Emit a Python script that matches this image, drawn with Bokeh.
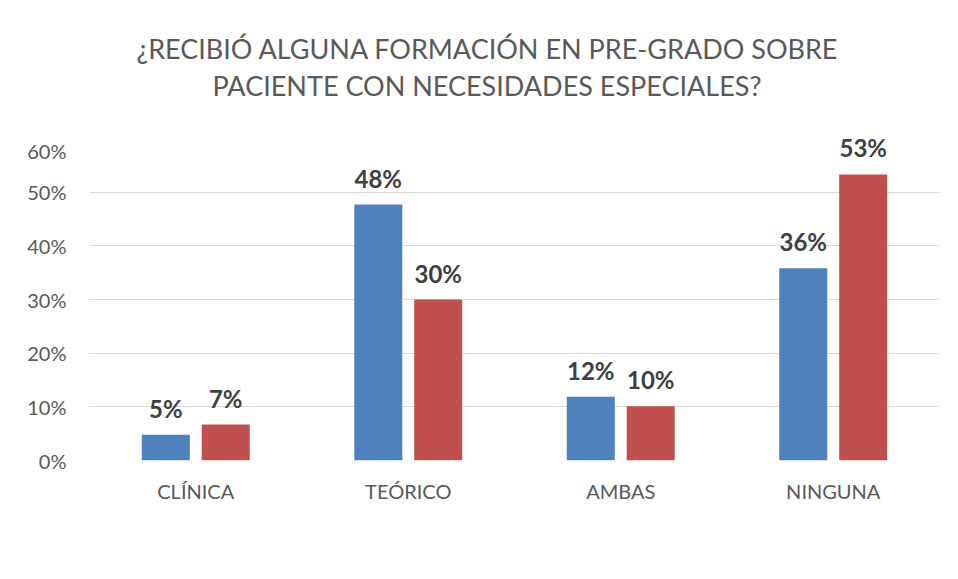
from bokeh.plotting import figure
from bokeh.layouts import column
from bokeh.models import FactorRange, Range1d, Legend, LegendItem, Div, NumeralTickFormatter, ColumnDataSource
from bokeh.transform import dodge
from bokeh.core.properties import value
from bokeh.embed import file_html
from bokeh.resources import INLINE

categories = ["CLÍNICA", "TEÓRICO", "AMBAS", "NINGUNA"]
valparaiso = [4.8, 47.7, 11.9, 35.8]
vina = [6.7, 30.0, 10.1, 53.3]
valparaiso_labels = ["5%", "48%", "12%", "36%"]
vina_labels = ["7%", "30%", "10%", "53%"]
series_names = ["VALPARAÍSO", "VIÑA DEL MAR"]
title_lines = ["¿RECIBIÓ ALGUNA FORMACIÓN EN PRE-GRADO SOBRE", "PACIENTE CON NECESIDADES ESPECIALES?"]

FONT = "Lato"
BLUE = "#4F81BD"
RED = "#C0504D"
GREY = "#595959"

src = ColumnDataSource(dict(cat=categories, v1=[v / 100 for v in valparaiso], v2=[v / 100 for v in vina],
                            l1=valparaiso_labels, l2=vina_labels))

title_div = Div(text=("<div style='width:942px;box-sizing:border-box;padding-left:32px;padding-top:30px;"
                      "text-align:center;font-family:Lato;font-size:27px;line-height:37px;color:%s'>%s</div>"
                      % (GREY, "<br>".join(title_lines))),
                width=942, height=138, margin=0)

p = figure(x_range=FactorRange(*categories), y_range=Range1d(0, 0.6),
           width=942, height=432, frame_width=850, frame_height=322,
           output_backend="svg", toolbar_location=None, margin=0,
           min_border_left=89, min_border_right=3, min_border_top=0, min_border_bottom=0)
p.outline_line_color = None

r1 = p.vbar(x=dodge("cat", -0.141, range=p.x_range), top="v1", width=0.226, source=src,
            fill_color=BLUE, line_color=None)
r2 = p.vbar(x=dodge("cat", 0.141, range=p.x_range), top="v2", width=0.226, source=src,
            fill_color=RED, line_color=None)

for xo, col, lab in [(-0.141, "v1", "l1"), (0.141, "v2", "l2")]:
    p.text(x=dodge("cat", xo, range=p.x_range), y=col, text=lab, source=src,
           text_align="center", text_baseline="bottom", y_offset=-12,
           text_font=value(FONT), text_font_style="bold", text_font_size="24px",
           text_color="#404040")

p.yaxis.ticker = [0, 0.1, 0.2, 0.3, 0.4, 0.5, 0.6]
p.yaxis.formatter = NumeralTickFormatter(format="0%")
for ax in (p.xaxis, p.yaxis):
    ax.axis_line_color = None
    ax.major_tick_line_color = None
    ax.minor_tick_line_color = None
    ax.major_label_text_font = FONT
    ax.major_label_text_font_size = "20px"
    ax.major_label_text_color = GREY
p.xaxis.major_label_standoff = 12
p.yaxis.major_label_standoff = 17
p.xgrid.grid_line_color = None
p.ygrid.grid_line_color = "#D9D9D9"
p.ygrid.grid_line_width = 1

legend = Legend(items=[LegendItem(label=series_names[0], renderers=[r1]),
                       LegendItem(label=series_names[1], renderers=[r2])],
                orientation="horizontal", location="center",
                label_text_font=FONT, label_text_font_size="20px", label_text_color=GREY,
                glyph_width=12, glyph_height=12, spacing=30, border_line_color=None,
                background_fill_alpha=0, margin=14, padding=0, label_standoff=8)
p.add_layout(legend, "below")

layout = column(title_div, p, spacing=0)
open("out.html", "w").write(file_html(layout, INLINE))
